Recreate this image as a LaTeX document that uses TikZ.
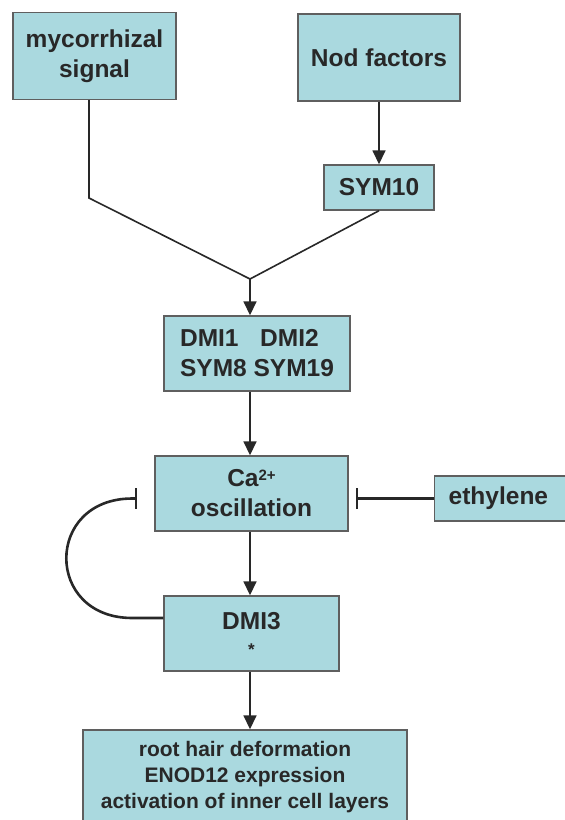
\documentclass[tikz,border=0pt]{standalone}
\usepackage{fontspec}
\setmainfont{Liberation Sans}
\usepackage{xcolor}
\usepackage{tikz}
\usetikzlibrary{arrows.meta}
\definecolor{boxfill}{RGB}{170,217,223}
\definecolor{boxline}{RGB}{95,95,95}
\definecolor{inkgray}{RGB}{40,40,40}

\begin{document}
\begin{tikzpicture}[x=1pt,y=-1pt]
				\useasboundingbox (0,0) rectangle (565,820);
				\begin{scope}[every node/.style={rectangle,draw=boxline,fill=boxfill,line width=1.4pt,
					text=inkgray,inner sep=0pt,align=center,font=\fontsize{24.5}{30}\selectfont\bfseries}]
					\node[minimum width=163,minimum height=87] (myc) at (94.5,56) {mycorrhizal\\signal};
					\node[minimum width=162,minimum height=87] (nod) at (379,57.5) {Nod factors};
					\node[minimum width=110,minimum height=45] (sym10) at (379,187.5) {SYM10};
					\node[minimum width=186,minimum height=75,align=left] (dmi) at (257,353.5) {DMI1\hspace{0.88em}DMI2\\SYM8 SYM19};
					\node[minimum width=193,minimum height=75] (ca) at (251.5,493.5) {Ca{\fontsize{15}{15}\selectfont\raisebox{6pt}{2+}}\\oscillation};
					\node[anchor=west,minimum width=180,minimum height=45] (eth) at (434,498.5) {\makebox[152pt][l]{ethylene}};
					\node[minimum width=175,minimum height=75] (dmi3) at (251.5,633.5) {DMI3\\[-4pt]{\fontsize{17}{17}\selectfont *}};
					\node[minimum width=324,minimum height=94,font=\fontsize{21}{26}\selectfont\bfseries] (res) at (245,777)
						{root hair deformation\\ENOD12 expression\\activation of inner cell layers};
				\end{scope}
				
				\begin{scope}[>={Triangle[length=14pt,width=13pt]},
					draw=inkgray,line width=1.6pt,
					every edge/.style={draw=inkgray,line width=1.6pt}]
					\coordinate (bend) at (89,198);
					\coordinate (junc) at (250,279);
					
					\path [->] (nod) edge (sym10);
					\draw ([xshift=-5.5pt]myc.south) -- (bend) -- (junc);%mycorrhizal%
					\draw (sym10.south) -- (junc);%nod%
					\path [->] (junc) edge (junc |- dmi.north);
					\path [->] (dmi.south -| junc) edge (junc |- ca.north);
					\path [->] (ca.south -| junc) edge (junc |- dmi3.north);
					\path [->] (dmi3.south -| junc) edge (junc |- res.north);
					
					\draw [-{Bar[width=21pt]},line width=2.6pt] (eth.west) -- ([xshift=7pt,yshift=-5pt]ca.east);%ethylene%
					\draw [{Bar[width=21pt]}-,line width=2.6pt] ([xshift=-17pt,yshift=-5pt]ca.west) -- ++(-5,0)
						.. controls +(-88,0) and +(-88,0) .. ++(0,119.5) -- ([yshift=15.5pt]dmi3.west);%feedback%
				\end{scope}
			\end{tikzpicture}
\end{document}
